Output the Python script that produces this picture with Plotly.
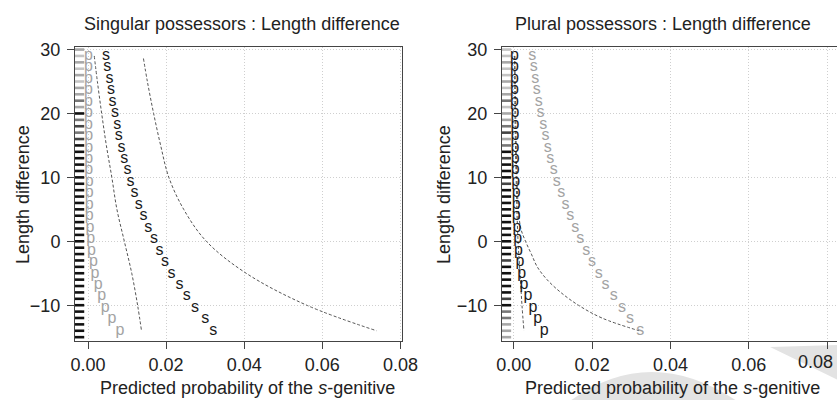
import plotly.graph_objects as go

# length difference values at which predictions were made
length_diff = [29, 27.21, 25.42, 23.63, 21.83, 20.04, 18.25, 16.46, 14.67, 12.88, 11.08, 9.29,
               7.5, 5.71, 3.92, 2.13, 0.33, -1.46, -3.25, -5.04, -6.83, -8.63, -10.42, -12.21, -14]

# singular possessors
sg_s = [0.0046, 0.0049, 0.0055, 0.0059, 0.0063, 0.0069, 0.0075, 0.0079, 0.0086, 0.0093, 0.0101, 0.0109,
        0.0119, 0.0130, 0.0142, 0.0154, 0.0169, 0.0183, 0.0197, 0.0214, 0.0234, 0.0253, 0.0274, 0.0300, 0.0321]
sg_p = [0.0001, 0.0001, 0.0001, 0.0001, 0.0001, 0.0001, 0.0001, 0.0002, 0.0002, 0.0002, 0.0002, 0.0003,
        0.0003, 0.0003, 0.0003, 0.0005, 0.0007, 0.0009, 0.0014, 0.0018, 0.0026, 0.0035, 0.0044, 0.0061, 0.0082]

# plural possessors
pl_s = [0.0047, 0.0051, 0.0055, 0.0059, 0.0064, 0.0068, 0.0075, 0.0081, 0.0087, 0.0093, 0.0102, 0.0110,
        0.0121, 0.0132, 0.0144, 0.0157, 0.0170, 0.0185, 0.0200, 0.0217, 0.0234, 0.0255, 0.0276, 0.0297, 0.0323]
pl_p = [0.0002, 0.0002, 0.0002, 0.0002, 0.0002, 0.0003, 0.0003, 0.0003, 0.0003, 0.0004, 0.0004, 0.0005,
        0.0006, 0.0006, 0.0006, 0.0008, 0.0010, 0.0012, 0.0016, 0.0020, 0.0026, 0.0036, 0.0049, 0.0061, 0.0078]

# dashed reference curves
sg_curve1_y = [29, 25, 20, 15, 10, 5, 0, -5, -10, -14]
sg_curve1_x = [0.0016, 0.0024, 0.0035, 0.0047, 0.0061, 0.0074, 0.0093, 0.0112, 0.0127, 0.0137]
sg_curve2_y = [28.6, 25, 20, 15, 10, 5, 0, -5, -10, -14]
sg_curve2_x = [0.0142, 0.0152, 0.0168, 0.0186, 0.0207, 0.0245, 0.0303, 0.0405, 0.0560, 0.0739]

pl_curve1_y = [29, 20, 10, 5, 0, -5, -10, -14]
pl_curve1_x = [0.0002, 0.0003, 0.0006, 0.0008, 0.0011, 0.0016, 0.0021, 0.0026]
pl_curve2_y = [29, 20, 10, 5, 2, 0, -2, -4, -6, -8, -10, -12, -14]
pl_curve2_x = [0.0003, 0.0005, 0.0008, 0.0012, 0.0018, 0.0030, 0.0045, 0.0060, 0.0085, 0.0120,
               0.0165, 0.0225, 0.0320]

# rug of observed length differences (count -> darkness)
rug_y = [30, 29, 28, 27, 26, 25, 24, 23, 22, 21, 20, 19, 18, 17, 16, 15, 14, 13, 12, 11, 10, 9, 8,
         7, 6, 5, 4, 3, 2, 1, 0, -1, -2, -3, -4, -5, -6, -7, -8, -9, -10, -11, -12, -13, -14, -15]
sg_rug_n = [2, 1, 2, 1, 2, 1, 2, 2, 3, 2, 5, 3, 4, 3, 4, 5, 5, 5, 5, 5, 5, 5, 5,
            5, 5, 5, 5, 5, 5, 5, 5, 5, 5, 5, 5, 5, 5, 5, 5, 5, 5, 5, 5, 5, 5, 5]
pl_rug_n = [1, 1, 2, 1, 1, 2, 1, 2, 3, 1, 2, 2, 3, 4, 2, 3, 5, 4, 5, 5, 5, 4, 5,
            5, 5, 5, 5, 5, 5, 5, 5, 5, 5, 4, 5, 5, 5, 5, 5, 4, 5, 3, 3, 2, 2, 2]

x_ticks = [0, 0.02, 0.04, 0.06, 0.08]
x_labels = ["0.00", "0.02", "0.04", "0.06", "0.08"]
y_ticks = [-10, 0, 10, 20, 30]
y_labels = ["\u221210", "0", "10", "20", "30"]

FONT = "Liberation Sans, Arial, Helvetica, sans-serif"
DARK = "#1a1a1a"
LIGHT = "#a3a3a3"
shade = {1: "#c4c4c4", 2: "#a8a8a8", 3: "#777777", 4: "#444444", 5: "#111111"}

W, H = 837, 400


def px(x):
    return x / W


def py(y):
    return 1 - y / H


fig = go.Figure()


def add_panel(xa, ya, s_vals, p_vals, s_col, p_col, c1, c2, rug_n, rug_x):
    fig.add_trace(go.Scatter(x=[rug_x] * len(rug_y), y=rug_y, mode="markers", xaxis=xa, yaxis=ya,
                             marker=dict(symbol="line-ew", size=8, color="#111111",
                                         line=dict(width=2.6, color=[shade[n] for n in rug_n])),
                             hoverinfo="skip", showlegend=False))
    for cx, cy in (c1, c2):
        fig.add_trace(go.Scatter(x=cx, y=cy, mode="lines", xaxis=xa, yaxis=ya, line_shape="spline",
                                 line=dict(color="#555555", width=1, dash="3px,2px"),
                                 showlegend=False))
    fig.add_trace(go.Scatter(x=p_vals, y=length_diff, mode="text", text=["p"] * len(length_diff),
                             xaxis=xa, yaxis=ya, textfont=dict(family=FONT, size=16, color=p_col),
                             showlegend=False))
    fig.add_trace(go.Scatter(x=s_vals, y=length_diff, mode="text", text=["s"] * len(length_diff),
                             xaxis=xa, yaxis=ya, textfont=dict(family=FONT, size=16, color=s_col),
                             showlegend=False))


add_panel("x", "y", sg_s, sg_p, DARK, LIGHT, (sg_curve1_x, sg_curve1_y), (sg_curve2_x, sg_curve2_y),
          sg_rug_n, -0.0024)
add_panel("x2", "y2", pl_s, pl_p, LIGHT, DARK, (pl_curve1_x, pl_curve1_y), (pl_curve2_x, pl_curve2_y),
          pl_rug_n, -0.0021)

xax = dict(tickvals=x_ticks, ticktext=x_labels,
           showgrid=True, gridcolor="#cfcfcf", griddash="1px,2px", gridwidth=1, zeroline=False,
           showline=True, linecolor="#444444", linewidth=1, mirror=True,
           ticks="outside", ticklen=7, tickcolor="#444444",
           tickfont=dict(family=FONT, size=18, color="#222222"))
yax = dict(tickvals=y_ticks, ticktext=y_labels,
           range=[-15.6, 30.4], showgrid=True, gridcolor="#cfcfcf", griddash="1px,2px", gridwidth=1,
           zeroline=False, showline=True, linecolor="#444444", linewidth=1, mirror=True,
           ticks="outside", ticklen=7, tickcolor="#444444", ticklabelstandoff=3,
           tickfont=dict(family=FONT, size=18, color="#222222"))

# the right panel runs off the page edge: its last label is placed by hand so it stays whole
right_labels = x_labels[:-1] + [""]

fig.update_layout(
    width=W, height=H, autosize=False, margin=dict(l=0, r=0, t=0, b=0, autoexpand=False),
    paper_bgcolor="white", plot_bgcolor="white", showlegend=False,
    font=dict(family=FONT, color="#222222"),
    xaxis=dict(xax, anchor="y", domain=[px(75), px(402)], range=[-0.00333, 0.0804]),
    yaxis=dict(yax, anchor="x", domain=[py(341), py(47)]),
    xaxis2=dict(xax, anchor="y2", domain=[px(502), 1.0], range=[-0.0030, 0.0825],
                ticktext=right_labels),
    yaxis2=dict(yax, anchor="x2", domain=[py(341), py(47)]),
)

# faint page watermark behind the lower right corner
swoosh = "M {:.4f},{:.4f} Q {:.4f},{:.4f} {:.4f},{:.4f} Z".format(
    px(570), py(401), px(650), py(343), px(737), py(401))
wedge = "M {:.4f},{:.4f} Q {:.4f},{:.4f} {:.4f},{:.4f} L {:.4f},{:.4f} Z".format(
    px(770), py(347), px(805), py(346), px(838), py(345), px(838), py(380))
for path in (swoosh, wedge):
    fig.add_shape(type="path", path=path, xref="paper", yref="paper", layer="below",
                  fillcolor="#e3e3e3", line=dict(width=0))

titles = [
    (242, 24, "Singular possessors : Length difference", 0),
    (663, 24, "Plural possessors : Length difference", 0),
    (247, 388, "Predicted probability of the <i>s</i>-genitive", 0),
    (672, 388, "Predicted probability of the <i>s</i>-genitive", 0),
    (23, 195, "Length difference", -90),
    (444, 195, "Length difference", -90),
]
for x, y, txt, ang in titles:
    fig.add_annotation(x=px(x), y=py(y), xref="paper", yref="paper", text=txt, showarrow=False,
                       textangle=ang, xanchor="center", yanchor="middle",
                       font=dict(family=FONT, size=18, color="#222222"))

fig.add_annotation(x=px(835), y=py(362), xref="paper", yref="paper", text=x_labels[-1],
                   showarrow=False, xanchor="right", yanchor="middle",
                   font=dict(family=FONT, size=18, color="#222222"))

# drop the default page margin so the figure sits at the window's corner
fig.write_html("out.html", config={"displayModeBar": False, "responsive": False},
               post_script="document.body.style.margin='0';")
